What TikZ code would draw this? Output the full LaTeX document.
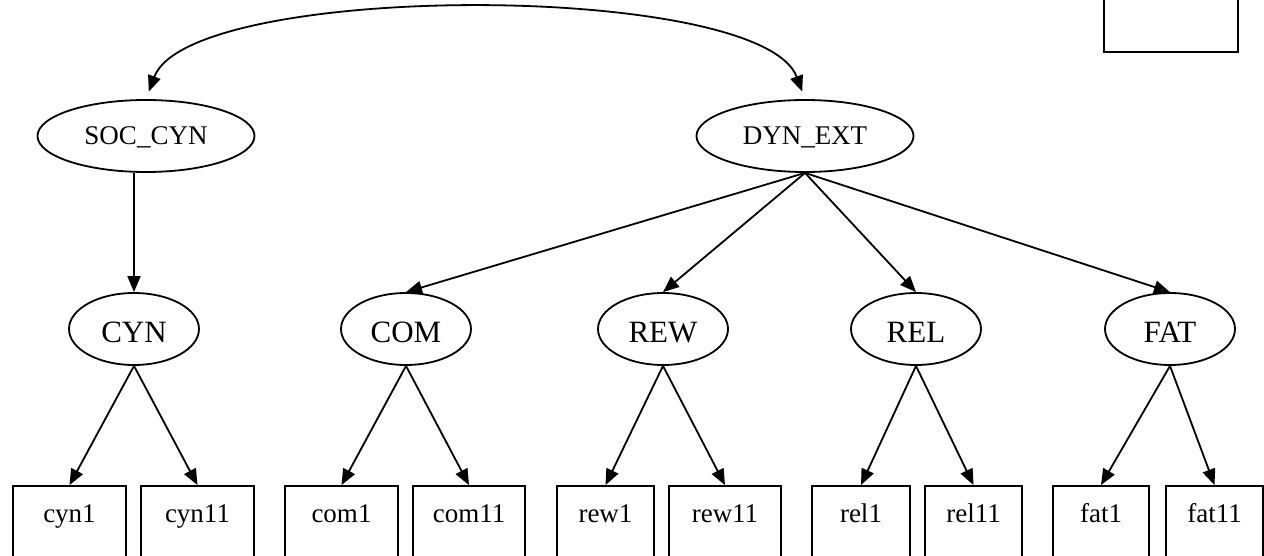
\documentclass[tikz,border=0pt]{standalone}
\usepackage{fontspec}
\setmainfont{Liberation Serif}
\usetikzlibrary{arrows.meta,shapes.geometric}
\begin{document}
\begin{tikzpicture}[x=1pt,y=-1pt,
  line width=1.8pt,
  >={Triangle[length=16pt,width=13pt]},
  topnode/.style={ellipse,draw,inner sep=0pt,minimum width=217pt,minimum height=72pt,
    font=\fontsize{27}{27}\selectfont,text height=18pt,text depth=0pt},
  midnode/.style={ellipse,draw,inner sep=0pt,minimum width=130pt,minimum height=72pt,
    font=\fontsize{31}{31}\selectfont,text height=26pt,text depth=0pt},
  leaf/.style={rectangle,draw,inner sep=0pt,minimum height=72pt,
    font=\fontsize{27}{27}\selectfont,text height=0pt,text depth=0pt},
  link/.style={->}]
\useasboundingbox (0,0) rectangle (1264,556);

% empty box in the upper right corner
\node[rectangle,draw,inner sep=0pt,minimum width=134pt,minimum height=90pt] (legend) at (1171,7) {};

% top level
\node[topnode] (SOC) at (146,136) {SOC\_CYN};
\node[topnode] (DYN) at (805,136) {DYN\_EXT};

% second level
\node[midnode] (CYN) at (134,329) {CYN};
\node[midnode] (COM) at (406,329) {COM};
\node[midnode] (REW) at (663,329) {REW};
\node[midnode] (REL) at (916,329) {REL};
\node[midnode] (FAT) at (1170,329) {FAT};

% leaves
\node[leaf,minimum width=113pt] (cyn1)  at (69.5,522)  {cyn1};
\node[leaf,minimum width=113pt] (cyn11) at (197.5,522) {cyn11};
\node[leaf,minimum width=113pt] (com1)  at (341.5,522) {com1};
\node[leaf,minimum width=112pt] (com11) at (469,522)   {com11};
\node[leaf,minimum width=97pt]  (rew1)  at (605.5,522) {rew1};
\node[leaf,minimum width=112pt] (rew11) at (725,522)   {rew11};
\node[leaf,minimum width=98pt]  (rel1)  at (861,522)   {rel1};
\node[leaf,minimum width=97pt]  (rel11) at (973.5,522) {rel11};
\node[leaf,minimum width=96pt]  (fat1)  at (1101,522)  {fat1};
\node[leaf,minimum width=97pt]  (fat11) at (1214.5,522) {fat11};

% two-way link between the top-level nodes
\draw[<->,shorten <=8pt,shorten >=8pt] (SOC.north) .. controls +(44,-118) and +(-44,-118) .. (DYN.north);

% tree edges
\draw[link] (SOC.south -| CYN.north) -- (CYN.north);
\foreach \c in {COM,REW,REL,FAT} \draw[link] (DYN.south) -- (\c.north);
\draw[link] (CYN.south) -- (cyn1.north);
\draw[link] (CYN.south) -- (cyn11.north);
\draw[link] (COM.south) -- (com1.north);
\draw[link] (COM.south) -- (com11.north);
\draw[link] (REW.south) -- (rew1.north);
\draw[link] (REW.south) -- (rew11.north);
\draw[link] (REL.south) -- (rel1.north);
\draw[link] (REL.south) -- (rel11.north);
\draw[link] (FAT.south) -- (fat1.north);
\draw[link] (FAT.south) -- (fat11.north);
\end{tikzpicture}
\end{document}
